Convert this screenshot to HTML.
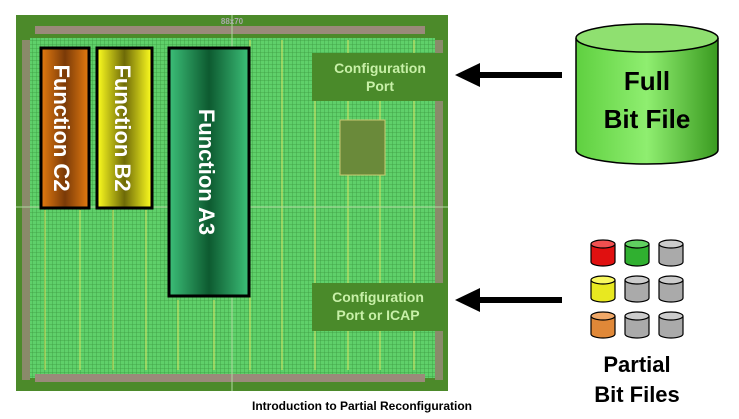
<!DOCTYPE html>
<html><head><style>body{margin:0;background:#fff}svg{display:block}text{font-family:"Liberation Sans",sans-serif;font-weight:bold}</style></head><body>
<svg width="739" height="419" viewBox="0 0 739 419" xmlns="http://www.w3.org/2000/svg">
<defs>
<pattern id="grid" width="4" height="4" patternUnits="userSpaceOnUse"><rect width="4" height="4" fill="#5fd06a"/><path d="M0 0H4M0 0V4" stroke="#3c9a40" stroke-width="0.8"/></pattern>
<linearGradient id="gc" x1="0" x2="1"><stop offset="0" stop-color="#e57c10"/><stop offset=".5" stop-color="#7a3a08"/><stop offset="1" stop-color="#e57c10"/></linearGradient>
<linearGradient id="gb" x1="0" x2="1"><stop offset="0" stop-color="#ffff20"/><stop offset=".5" stop-color="#6e6a08"/><stop offset="1" stop-color="#ffff20"/></linearGradient>
<linearGradient id="ga" x1="0" x2="1"><stop offset="0" stop-color="#3cbf78"/><stop offset=".5" stop-color="#0d5a30"/><stop offset="1" stop-color="#3cbf78"/></linearGradient>
<linearGradient id="cyl" x1="0" x2="1"><stop offset="0" stop-color="#5fd040"/><stop offset=".5" stop-color="#8fee70"/><stop offset="1" stop-color="#3a9a20"/></linearGradient>
</defs>
<rect x="16" y="15" width="432" height="376" fill="#4c8a2a"/>
<rect x="30" y="38" width="405" height="340" fill="url(#grid)"/>
<rect x="22" y="40" width="8" height="340" fill="#8a8a6a"/>
<rect x="435" y="40" width="8" height="340" fill="#8a8a6a"/>
<g fill="#9a8a7a">
<rect x="35" y="26" width="390" height="8"/><rect x="35" y="374" width="390" height="8"/>
</g>
<g stroke="#d8e060" stroke-width="1" fill="none">
<path d="M45 210V370M80 210V370M113 210V370M146 210V370M178 300V370M214 300V370M250 40V370M282 40V370M315 100V370M348 40V370M380 100V370M414 40V370"/>
</g>
<path d="M16 207H448M232 15V391" stroke="#b0d8a0" stroke-width="1"/>
<text x="232" y="24" font-size="8" fill="#aaa" font-weight="normal" text-anchor="middle">88x70</text>
<rect x="340" y="120" width="45" height="55" fill="#6a8a3a" stroke="#c8c870"/>
<rect x="312" y="53" width="136" height="48" fill="#4a8a2a"/>
<text x="380" y="73" font-size="14" fill="#c8f0a8" text-anchor="middle">Configuration</text>
<text x="380" y="91" font-size="14" fill="#c8f0a8" text-anchor="middle">Port</text>
<rect x="312" y="283" width="133" height="48" fill="#4a8a2a"/>
<text x="378" y="302" font-size="14" fill="#c8f0a8" text-anchor="middle">Configuration</text>
<text x="378" y="320" font-size="14" fill="#c8f0a8" text-anchor="middle">Port or ICAP</text>
<rect x="41" y="48" width="48" height="160" fill="url(#gc)" stroke="#000" stroke-width="3"/>
<rect x="97" y="48" width="55" height="160" fill="url(#gb)" stroke="#000" stroke-width="3"/>
<rect x="169" y="48" width="80" height="248" fill="url(#ga)" stroke="#000" stroke-width="3"/>
<text transform="translate(54,128) rotate(90)" font-size="22" fill="#fff" text-anchor="middle">Function C2</text>
<text transform="translate(115,128) rotate(90)" font-size="22" fill="#fff" text-anchor="middle">Function B2</text>
<text transform="translate(199,172) rotate(90)" font-size="22" fill="#fff" text-anchor="middle">Function A3</text>
<text x="362" y="410" font-size="12" fill="#000" text-anchor="middle">Introduction to Partial Reconfiguration</text>
<g fill="#000"><rect x="478" y="72" width="84" height="6"/><polygon points="455,75 480,63 480,87"/>
<rect x="478" y="297" width="84" height="6"/><polygon points="455,300 480,288 480,312"/></g>
<path d="M576 38V150A71 14 0 0 0 718 150V38" fill="url(#cyl)" stroke="#000" stroke-width="1.5"/>
<ellipse cx="647" cy="38" rx="71" ry="14" fill="#8fe070" stroke="#000" stroke-width="1.5"/>
<text x="647" y="90" font-size="26" fill="#000" text-anchor="middle">Full</text>
<text x="647" y="128" font-size="26" fill="#000" text-anchor="middle">Bit File</text>
<g stroke="#000" stroke-width="1.2">
<g transform="translate(591,240)" fill="#e01010"><path d="M0 4V22A12 4 0 0 0 24 22V4"/><ellipse cx="12" cy="4" rx="12" ry="4" fill="#f05050"/></g>
<g transform="translate(625,240)" fill="#30b030"><path d="M0 4V22A12 4 0 0 0 24 22V4"/><ellipse cx="12" cy="4" rx="12" ry="4" fill="#60d060"/></g>
<g transform="translate(659,240)" fill="#aaa"><path d="M0 4V22A12 4 0 0 0 24 22V4"/><ellipse cx="12" cy="4" rx="12" ry="4" fill="#ccc"/></g>
<g transform="translate(591,276)" fill="#e8e820"><path d="M0 4V22A12 4 0 0 0 24 22V4"/><ellipse cx="12" cy="4" rx="12" ry="4" fill="#f8f860"/></g>
<g transform="translate(625,276)" fill="#aaa"><path d="M0 4V22A12 4 0 0 0 24 22V4"/><ellipse cx="12" cy="4" rx="12" ry="4" fill="#ccc"/></g>
<g transform="translate(659,276)" fill="#aaa"><path d="M0 4V22A12 4 0 0 0 24 22V4"/><ellipse cx="12" cy="4" rx="12" ry="4" fill="#ccc"/></g>
<g transform="translate(591,312)" fill="#e08838"><path d="M0 4V22A12 4 0 0 0 24 22V4"/><ellipse cx="12" cy="4" rx="12" ry="4" fill="#f0a868"/></g>
<g transform="translate(625,312)" fill="#aaa"><path d="M0 4V22A12 4 0 0 0 24 22V4"/><ellipse cx="12" cy="4" rx="12" ry="4" fill="#ccc"/></g>
<g transform="translate(659,312)" fill="#aaa"><path d="M0 4V22A12 4 0 0 0 24 22V4"/><ellipse cx="12" cy="4" rx="12" ry="4" fill="#ccc"/></g>
</g>
<text x="637" y="372" font-size="22" fill="#000" text-anchor="middle">Partial</text>
<text x="637" y="402" font-size="22" fill="#000" text-anchor="middle">Bit Files</text>
</svg>
</body></html>
